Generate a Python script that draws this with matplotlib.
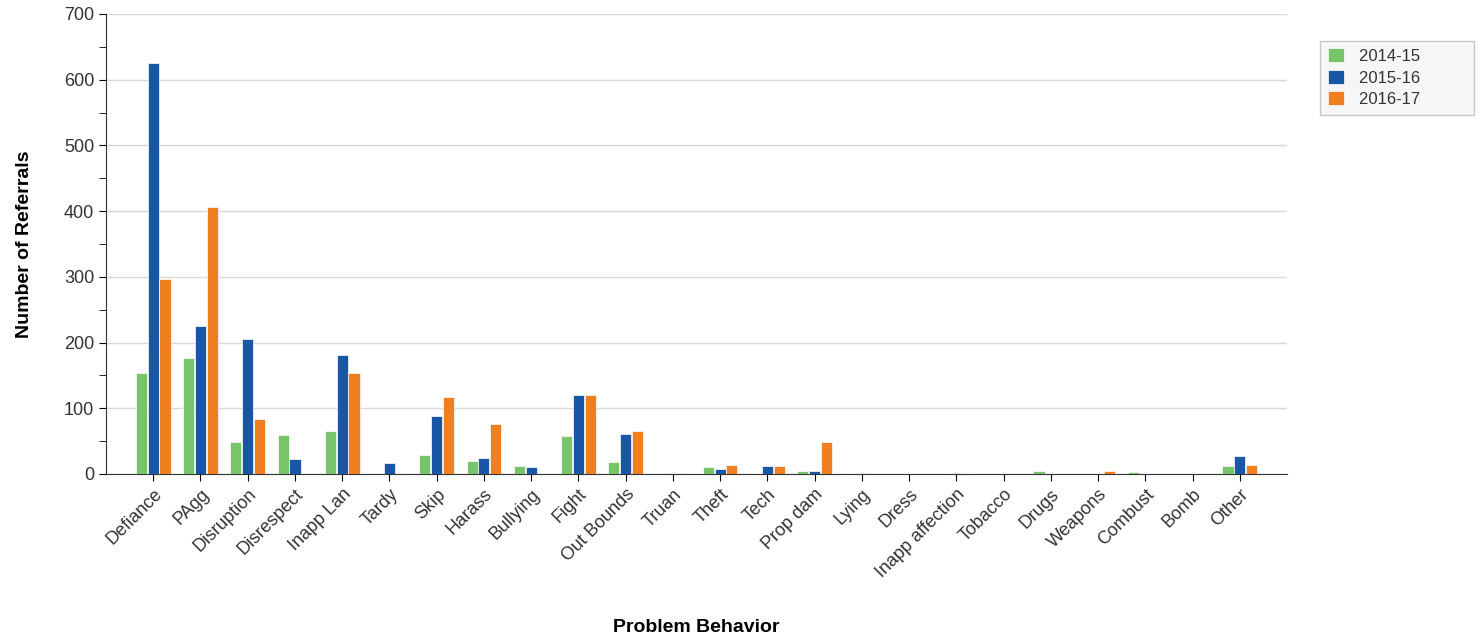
import numpy as np
import matplotlib.pyplot as plt
from matplotlib.ticker import MultipleLocator

plt.rcParams['font.family'] = ['Liberation Sans', 'DejaVu Sans']

categories = ['Defiance', 'PAgg', 'Disruption', 'Disrespect', 'Inapp Lan', 'Tardy',
              'Skip', 'Harass', 'Bullying', 'Fight', 'Out Bounds', 'Truan', 'Theft',
              'Tech', 'Prop dam', 'Lying', 'Dress', 'Inapp affection', 'Tobacco',
              'Drugs', 'Weapons', 'Combust', 'Bomb', 'Other']
y2014 = [154, 177, 49, 59, 65, 0, 29, 20, 12, 58, 19, 0, 10, 2, 5, 2, 0, 2, 0, 5, 0, 3, 0, 12]
y2015 = [626, 225, 205, 23, 181, 17, 88, 24, 10, 120, 61, 2, 8, 12, 5, 2, 0, 2, 0, 0, 0, 0, 0, 28]
y2016 = [297, 406, 84, 0, 154, 2, 117, 76, 0, 120, 66, 2, 14, 12, 48, 0, 0, 2, 0, 0, 5, 0, 0, 14]
series = ['2014-15', '2015-16', '2016-17']
colors = ['#77c46a', '#1a56a6', '#f07f22']

fig = plt.figure(figsize=(14.81, 6.43), dpi=100)
ax = fig.add_axes([106 / 1481, 1 - 474 / 643, (1287 - 106) / 1481, 460 / 643])

x = np.arange(len(categories))
w = 0.235
for i, (vals, lab, c) in enumerate(zip([y2014, y2015, y2016], series, colors)):
    ax.bar(x + (i - 1) * 0.25, vals, width=w, color=c, label=lab,
           edgecolor='white', linewidth=0.5, zorder=3)

ax.set_xlim(-1, 24)
ax.set_ylim(0, 700)
ax.yaxis.set_major_locator(MultipleLocator(100))
ax.yaxis.set_minor_locator(MultipleLocator(50))
ax.grid(axis='y', color='#d9d9d9', linewidth=1, zorder=0)
ax.set_xticks(x)
ax.set_xticklabels(categories, rotation=45, ha='right', rotation_mode='anchor',
                   fontsize=13, color='#333333')
ax.tick_params(axis='y', labelsize=13, labelcolor='#333333', length=5)
ax.tick_params(axis='y', which='minor', length=5)
ax.tick_params(axis='x', length=5)
for s in ['top', 'right']:
    ax.spines[s].set_visible(False)
ax.spines['left'].set_color('#333333')
ax.spines['bottom'].set_color('#333333')

ax.set_ylabel('Number of Referrals', fontsize=14, fontweight='bold', labelpad=22)
fig.text((106 + 1287) / 2 / 1481, 1 - 628 / 643, 'Problem Behavior', fontsize=14,
         fontweight='bold', ha='center', va='center')

leg = fig.legend(loc='upper left', bbox_to_anchor=(1320 / 1481, 1 - 41 / 643),
                 fontsize=12, frameon=True, fancybox=False, handlelength=1.0,
                 handleheight=0.9, labelspacing=0.35, borderpad=0.45,
                 handletextpad=0.9, borderaxespad=0)
leg.get_frame().set_facecolor('#f4f4f4')
leg.get_frame().set_edgecolor('#bbbbbb')
for t in leg.get_texts():
    t.set_color('#333333')
    t.set_text(t.get_text() + '          ')

fig.savefig('out.png', dpi=100)
